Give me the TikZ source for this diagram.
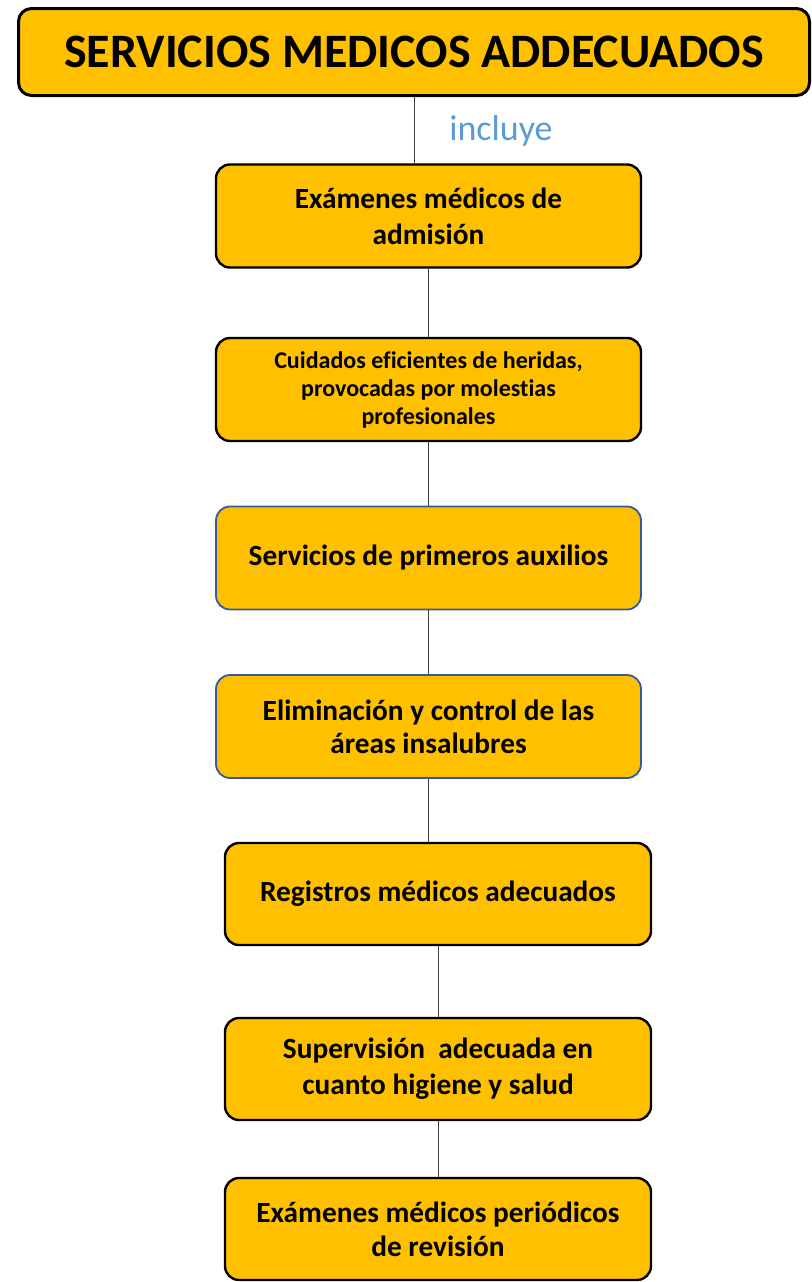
\documentclass[tikz,border=0pt]{standalone}
\usepackage{fontspec}
\setmainfont{Carlito}[Ligatures=CommonOff]
\usepackage{tikz}
\definecolor{boxfill}{RGB}{255,192,0}
\definecolor{boxblue}{RGB}{52,90,160}
\definecolor{inclblue}{RGB}{91,155,213}
\definecolor{linegray}{RGB}{64,64,64}

\begin{document}
\begin{tikzpicture}[x=1pt,y=-1pt]
				\useasboundingbox (0,0) rectangle (811,1282);
				\begin{scope}[every node/.style = {rectangle, rounded corners=14pt, draw=black, line width=2.4pt,
						fill=boxfill, align=center, font=\bfseries, inner sep=0pt}]
					\node [rounded corners=13pt, line width=3pt, minimum width=791pt, minimum height=87pt,
						font=\fontsize{48}{54}\bfseries\selectfont] (title) at (414,52) {SERVICIOS MEDICOS ADDECUADOS};
					\node [minimum width=425pt, minimum height=103pt, font=\fontsize{29.3}{36}\bfseries\selectfont]
						(examenes) at (428.5,216) {Exámenes médicos de\\admisión};
					\node [minimum width=425pt, minimum height=103pt, font=\fontsize{24}{28}\bfseries\selectfont]
						(cuidados) at (428.5,389.5) {Cuidados eficientes de heridas,\\provocadas por molestias\\profesionales};
					\node [draw=boxblue, line width=1.8pt, minimum width=425pt, minimum height=103pt,
						font=\fontsize{29.3}{33}\bfseries\selectfont] (auxilios) at (428.5,558) {Servicios de primeros auxilios};
					\node [draw=boxblue, line width=1.8pt, minimum width=425pt, minimum height=103pt,
						font=\fontsize{29.3}{33}\bfseries\selectfont] (eliminacion) at (428.5,726.5) {Eliminación y control de las\\áreas insalubres};
					\node [minimum width=426pt, minimum height=102pt, font=\fontsize{29.3}{36}\bfseries\selectfont]
						(registros) at (438,894) {Registros médicos adecuados};
					\node [minimum width=426pt, minimum height=102pt, font=\fontsize{29.3}{36}\bfseries\selectfont]
						(supervision) at (438,1069) {Supervisión \ adecuada en\\cuanto higiene y salud};
					\node [minimum width=426pt, minimum height=102pt, font=\fontsize{29.3}{34}\bfseries\selectfont]
						(periodicos) at (438,1229) {Exámenes médicos periódicos\\de revisión};
				\end{scope}
				\begin{scope}[every edge/.style={draw=linegray, line width=1pt}]
					\path [-] (title.south) edge (title.south |- examenes.north);
					\path [-] (examenes) edge (cuidados);
					\path [-] (cuidados) edge (auxilios);
					\path [-] (auxilios) edge (eliminacion);
					\path [-] (eliminacion.south) edge (eliminacion.south |- registros.north);
					\path [-] (registros) edge (supervision);
					\path [-] (supervision) edge (periodicos);
				\end{scope}
				\node [text=inclblue, font=\fontsize{36}{40}\selectfont, inner sep=0pt] (incluye) at (501,131) {incluye};
			\end{tikzpicture}
\end{document}
